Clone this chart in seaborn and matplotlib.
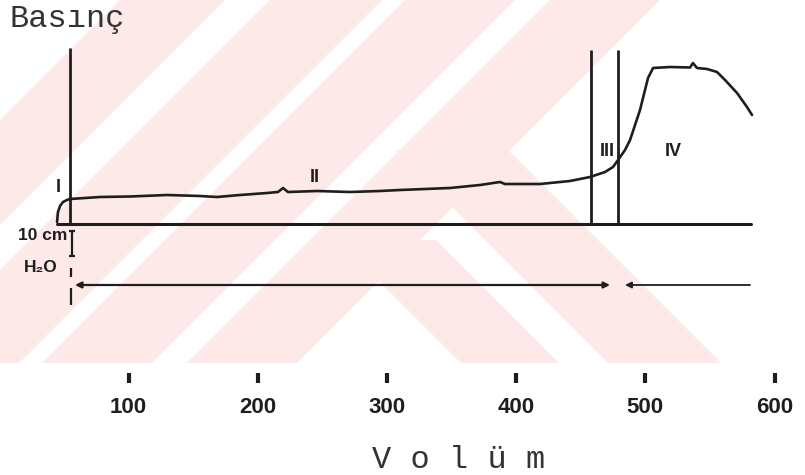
import numpy as np
import pandas as pd
import matplotlib
matplotlib.use("Agg")
import matplotlib.pyplot as plt
from matplotlib.patches import Polygon
import seaborn as sns

# cystometrogram trace: volume (mL) vs pressure (cm H2O)
volume = [44.7, 45.4, 47.0, 49.3, 52.4, 54.7, 77.9, 101.2, 129.8, 155.3,
          168.5, 186.3, 207.2, 215.7, 219.6, 223.4, 245.9, 271.4, 294.7, 310.1,
          348.8, 372.1, 387.5, 391.4, 418.5, 441.7, 457.2, 468.8, 475.0, 478.9,
          484.3, 488.2, 495.9, 502.1, 506.0, 519.1, 534.6, 536.9, 540.0, 547.8,
          555.5, 561.7, 571.0, 578.7, 582.6]
pressure = [0.6, 4.6, 7.0, 8.6, 9.4, 9.8, 10.6, 10.8, 11.4, 11.0,
            10.6, 11.4, 12.2, 12.6, 14.2, 12.6, 13.0, 12.6, 13.0, 13.4,
            14.2, 15.4, 16.6, 15.8, 15.8, 17.0, 18.6, 20.6, 22.6, 25.4,
            29.4, 33.4, 45.4, 58.2, 62.2, 62.6, 62.4, 64.2, 62.2, 61.8,
            60.6, 57.4, 52.2, 46.6, 43.4]

baseline_vol = [44.7, 581.5]
phase_line_vol = [54.7, 458.0, 478.9]
phase_line_top = [70.2, 69.4, 69.4]
phase_labels = ["I", "II", "III", "IV"]
phase_label_vol = [45.4, 244.0, 470.4, 521.4]
phase_label_p = [14.6, 18.6, 28.6, 28.6]

tick_values = [100, 200, 300, 400, 500, 600]
tick_labels = ["100", "200", "300", "400", "500", "600"]

scale_vol = 56.3
scale_range = [-3.0, -13.0]  # 10 cm H2O bar
infusion_p = -24.6
infusion_main = [58.6, 472.7]
infusion_tail = [484.3, 581.0]

ink = "#1e1e1e"
pink = "#fce9e8"

sns.set_style("white")
fig = plt.figure(figsize=(8.05, 4.75), dpi=100)
ax = fig.add_axes([0, 0, 1, 1])
ax.set_xlim(0.54, 623.6)
ax.set_ylim(-100.6, 89.4)

# pale diagonal watermark behind the chart (pixel geometry -> axes fraction)
W, H, B = 805.0, 475.0, 363.0
bands = []
for a, b in [(120, 225), (270, 382), (405, 515), (550, 660)]:   # "/" stripes
    bands.append([(a, 0), (b, 0), (b - B, B), (a - B, B)])
for y0, c, d in [(240, 338, 436), (150, 395, 508)]:             # "\" stripes
    bands.append([(c, y0), (d, y0), (d + B - y0, B), (c + B - y0, B)])
for band in bands:
    pts = [(x / W, 1 - y / H) for x, y in band]
    ax.add_patch(Polygon(pts, closed=True, transform=ax.transAxes,
                         facecolor=pink, edgecolor="none", zorder=0))

# pressure curve
df = pd.DataFrame({"Volüm": volume, "Basınç": pressure})
sns.lineplot(data=df, x="Volüm", y="Basınç", sort=False, estimator=None,
             color=ink, lw=1.9, ax=ax, zorder=3)

ax.plot(baseline_vol, [0, 0], color=ink, lw=2.2, zorder=3)
ax.vlines(phase_line_vol, 0, phase_line_top, color=ink, lw=2.0, zorder=3)

for lab, xv, yv in zip(phase_labels, phase_label_vol, phase_label_p):
    ax.text(xv, yv, lab, ha="center", va="center", fontsize=13,
            fontweight="bold", color=ink, family="Liberation Sans")

# 10 cm H2O scale bar
ax.plot([scale_vol, scale_vol], scale_range, color=ink, lw=1.6,
        marker="_", markersize=5, mew=1.6)
ax.text(52.4, -5.0, "10 cm", ha="right", va="center", fontsize=12.5,
        fontweight="bold", color=ink, family="Liberation Sans")
ax.text(32.3, -17.8, "H₂O", ha="center", va="center", fontsize=12.5,
        fontweight="bold", color=ink, family=["Liberation Sans", "DejaVu Sans"])
ax.vlines([55.5, 55.5], [-17.8, -25.8], [-21.4, -32.6], color=ink, lw=1.6)

# infusion arrows
ax.annotate("", xy=(infusion_main[0], infusion_p), xytext=(infusion_main[1], infusion_p),
            arrowprops=dict(arrowstyle="<|-|>", color=ink, lw=1.6,
                            mutation_scale=9, shrinkA=0, shrinkB=0))
ax.annotate("", xy=(infusion_tail[0], infusion_p), xytext=(infusion_tail[1], infusion_p),
            arrowprops=dict(arrowstyle="-|>", color=ink, lw=1.3,
                            mutation_scale=9, shrinkA=0, shrinkB=0))

# volume axis: floating ticks
for s in ax.spines.values():
    s.set_visible(False)
ax.spines["bottom"].set_position(("data", -61.8))
ax.set_xticks(tick_values)
ax.set_xticklabels(tick_labels)
ax.tick_params(axis="x", direction="inout", length=7, width=3, color=ink,
               pad=10, labelsize=16, labelcolor=ink, bottom=True)
for t in ax.get_xticklabels():
    t.set_fontweight("bold")
    t.set_family("Liberation Sans")
ax.tick_params(axis="y", left=False, labelleft=False)
ax.set_xlabel("")
ax.set_ylabel("")

ax.text(10 / W, 1 - 19 / H, "Basınç", transform=ax.transAxes, ha="left",
        va="center", fontsize=23, color="#333333", family="Liberation Mono")
ax.text(459 / W, 1 - 460 / H, "V o l ü m", transform=ax.transAxes, ha="center",
        va="center", fontsize=23, color="#333333", family="Liberation Mono")

fig.savefig("out.png", dpi=100)
